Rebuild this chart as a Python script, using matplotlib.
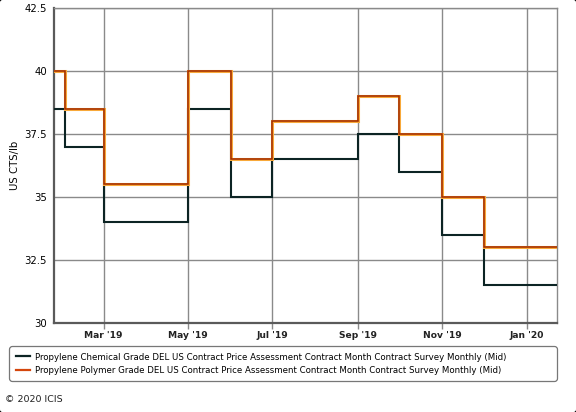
import matplotlib
matplotlib.use("Agg")
import matplotlib.pyplot as plt
import matplotlib.dates as mdates
from matplotlib.patches import FancyBboxPatch
from matplotlib.lines import Line2D
import datetime as dt

# ---- data ----
month_starts = ["2019-01-01", "2019-02-01", "2019-03-01", "2019-04-01", "2019-05-01",
                "2019-06-01", "2019-07-01", "2019-08-01", "2019-09-01", "2019-10-01",
                "2019-11-01", "2019-12-01", "2020-01-01", "2020-02-01"]
chemical = [38.5, 37.0, 34.0, 34.0, 38.5, 35.0, 36.5, 36.5, 37.5, 36.0, 33.5, 31.5, 31.5]
polymer = [40.0, 38.5, 35.5, 35.5, 40.0, 36.5, 38.0, 38.0, 39.0, 37.5, 35.0, 33.0, 33.0]
series_labels = [
    "Propylene Chemical Grade DEL US Contract Price Assessment Contract Month Contract Survey Monthly (Mid)",
    "Propylene Polymer Grade DEL US Contract Price Assessment Contract Month Contract Survey Monthly (Mid)",
]
x_ticks = ["2019-03-01", "2019-05-01", "2019-07-01", "2019-09-01", "2019-11-01", "2020-01-01"]
y_ticks = [30, 32.5, 35, 37.5, 40, 42.5]
y_tick_labels = ["30", "32.5", "35", "37.5", "40", "42.5"]
x_range = ["2019-01-24", "2020-01-23"]

def d(s):
    return mdates.date2num(dt.datetime.strptime(s, "%Y-%m-%d"))

edges = [d(s) for s in month_starts]

W, H = 576, 412
fig = plt.figure(figsize=(W / 100, H / 100), dpi=100)
fig.patch.set_facecolor("black")
bg = FancyBboxPatch((0, 0), W, H, boxstyle="round,pad=0,rounding_size=2.5",
                    facecolor="white", edgecolor="none", transform=None, zorder=-10)
fig.patches.append(bg)

ax = fig.add_axes([54 / W, 1 - 323 / H, (557 - 54) / W, (323 - 8) / H])
ax.set_facecolor("white")

ax.stairs(chemical, edges, color="#0c2424", lw=1.5, baseline=None, zorder=3)
ax.stairs(polymer, edges, color="#f8a93a", lw=2.2, baseline=None, zorder=4)
ax.stairs(polymer, edges, color="#a02a00", lw=1.1, baseline=None, zorder=5)

ax.set_xlim(d(x_range[0]), d(x_range[1]))
ax.set_ylim(30, 42.5)
ax.set_yticks(y_ticks)
ax.set_yticklabels(y_tick_labels)
ax.set_xticks([d(s) for s in x_ticks])
ax.set_xticklabels([dt.datetime.strptime(s, "%Y-%m-%d").strftime("%b '%y") for s in x_ticks],
                   fontweight="bold")

ax.grid(True, color="#8a8a8a", lw=1.0, zorder=1)
ax.set_axisbelow(True)
for side in ["top", "right"]:
    ax.spines[side].set_color("#8a8a8a")
    ax.spines[side].set_linewidth(1.0)
for side in ["left", "bottom"]:
    ax.spines[side].set_color("#5a5a5a")
    ax.spines[side].set_linewidth(1.6)

ax.tick_params(axis="y", length=0, pad=5, labelsize=7.3, colors="black")
ax.tick_params(axis="x", length=4, width=1, color="#8a8a8a", pad=2, labelsize=6.6)
for lbl in ax.get_xticklabels():
    lbl.set_color("#222222")

ax.set_ylabel("US CTS/lb", fontsize=7.3, labelpad=3)

handles = [Line2D([], [], color="#0c2424", lw=1.6), Line2D([], [], color="#d4460c", lw=1.6)]
leg = fig.legend(handles, series_labels, loc="upper left",
                 bbox_to_anchor=(9 / W, 1 - 382 / H, (557 - 9) / W, 36 / H),
                 mode="expand", borderaxespad=0, fontsize=6.25, frameon=True,
                 fancybox=True, handlelength=1.7, handletextpad=0.6,
                 labelspacing=0.5, borderpad=0.75)
leg.get_frame().set_edgecolor("#555555")
leg.get_frame().set_linewidth(0.9)
leg.get_frame().set_boxstyle("round,pad=0,rounding_size=0.4")

fig.text(5 / W, 1 - 400 / H, "© 2020 ICIS", fontsize=6.8, va="center", ha="left", color="#222222")

fig.savefig("out.png", dpi=100, facecolor=fig.get_facecolor())
